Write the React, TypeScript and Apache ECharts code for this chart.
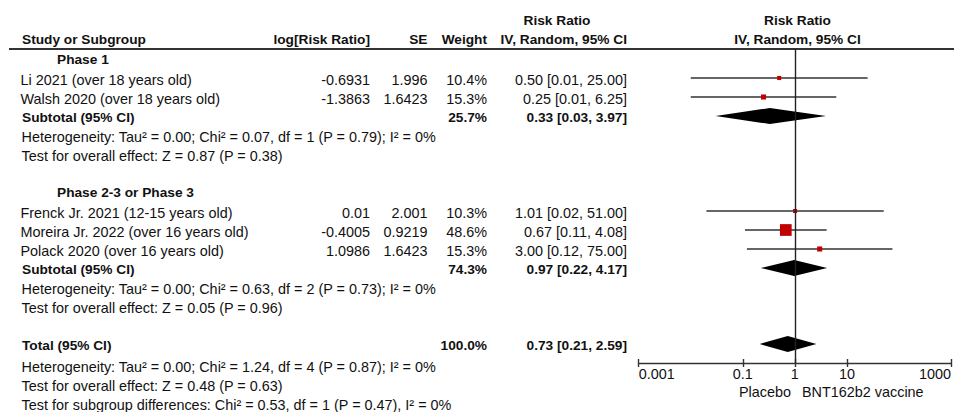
import React, { useEffect, useRef } from "react";
import * as echarts from "echarts";

// ---------- data ----------
const groupLabels = ["Phase 1", "Phase 2-3 or Phase 3"];
const groupRows = [0, 7];

const studyNames = [
  "Li 2021 (over 18 years old)",
  "Walsh 2020 (over 18 years old)",
  "Frenck Jr. 2021 (12-15 years old)",
  "Moreira Jr. 2022 (over 16 years old)",
  "Polack 2020 (over 16 years old)",
];
const studyLogRR = ["-0.6931", "-1.3863", "0.01", "-0.4005", "1.0986"];
const studySE = ["1.996", "1.6423", "2.001", "0.9219", "1.6423"];
const studyWeight = [10.4, 15.3, 10.3, 48.6, 15.3];
const studyRR = [0.5, 0.25, 1.01, 0.67, 3.0];
const studyLow = [0.01, 0.01, 0.02, 0.11, 0.12];
const studyHigh = [25.0, 6.25, 51.0, 4.08, 75.0];
const studyRows = [1, 2, 8, 9, 10];

const pooledLabels = ["Subtotal (95% CI)", "Subtotal (95% CI)", "Total (95% CI)"];
const pooledWeight = [25.7, 74.3, 100.0];
const pooledRR = [0.33, 0.97, 0.73];
const pooledLow = [0.03, 0.22, 0.21];
const pooledHigh = [3.97, 4.17, 2.59];
const pooledRows = [3, 11, 15];

const noteTexts = [
  "Heterogeneity: Tau\u00b2 = 0.00; Chi\u00b2 = 0.07, df = 1 (P = 0.79); I\u00b2 = 0%",
  "Test for overall effect: Z = 0.87 (P = 0.38)",
  "Heterogeneity: Tau\u00b2 = 0.00; Chi\u00b2 = 0.63, df = 2 (P = 0.73); I\u00b2 = 0%",
  "Test for overall effect: Z = 0.05 (P = 0.96)",
  "Heterogeneity: Tau\u00b2 = 0.00; Chi\u00b2 = 1.24, df = 4 (P = 0.87); I\u00b2 = 0%",
  "Test for overall effect: Z = 0.48 (P = 0.63)",
  "Test for subgroup differences: Chi\u00b2 = 0.53, df = 1 (P = 0.47), I\u00b2 = 0%",
];
const noteRows = [4, 5, 12, 13, 16, 17, 18];

const xTickValues = [0.001, 0.1, 1, 10, 1000];
const favoursLeft = "Placebo";
const favoursRight = "BNT162b2 vaccine";

// ---------- layout ----------
const W = 954;
const H = 412;
const FONT = '"Liberation Sans", Arial, sans-serif';
const FS_BOLD = 13.7;
const FS = 14.4;
const ROW0 = 59;
const ROWH = 19;
const rowY = (r: number) => ROW0 + ROWH * r;
const GRID_TOP = 49;
const AXIS_Y = 363;
const PLOT_LEFT = 638.7;
const PLOT_RIGHT = 956.7;

const COL = {
  name: 20.5,
  group: 57,
  bold: 22,
  logrr: 370,
  se: 427.5,
  weight: 487,
  ci: 627,
};

function txt(text: string, x: number, y: number, align: string, bold = false) {
  return {
    type: "text",
    x,
    y,
    silent: true,
    style: {
      text,
      fill: "#111",
      font: `${bold ? "bold " : ""}${bold ? FS_BOLD : FS}px ${FONT}`,
      align,
      verticalAlign: "middle",
      textAlign: align,
      textVerticalAlign: "middle",
    },
  };
}

const fmtCI = (m: number, l: number, h: number) =>
  `${m.toFixed(2)} [${l.toFixed(2)}, ${h.toFixed(2)}]`;

export default function App() {
  const ref = useRef<HTMLDivElement>(null);

  useEffect(() => {
    if (!ref.current) return;
    const chart = echarts.init(ref.current, undefined, { renderer: "svg" });

    const graphics: any[] = [];
    // headers
    graphics.push(txt("Risk Ratio", 557, 20, "center", true));
    graphics.push(txt("Risk Ratio", 797.5, 20, "center", true));
    graphics.push(txt("Study or Subgroup", COL.bold, 39.5, "left", true));
    graphics.push(txt("log[Risk Ratio]", COL.logrr, 39.5, "right", true));
    graphics.push(txt("SE", COL.se, 39.5, "right", true));
    graphics.push(txt("Weight", COL.weight, 39.5, "right", true));
    graphics.push(txt("IV, Random, 95% CI", COL.ci, 39.5, "right", true));
    graphics.push(txt("IV, Random, 95% CI", 797.5, 39.5, "center", true));
    graphics.push({
      type: "line",
      silent: true,
      shape: { x1: 9, y1: GRID_TOP, x2: W, y2: GRID_TOP },
      style: { stroke: "#333", lineWidth: 2 },
    });

    groupLabels.forEach((g, i) => {
      graphics.push(txt(g, COL.group, rowY(groupRows[i]) + 0.5, "left", true));
    });
    studyNames.forEach((n, i) => {
      const y = rowY(studyRows[i]) + 1.5;
      graphics.push(txt(n, COL.name, y, "left"));
      graphics.push(txt(studyLogRR[i], COL.logrr, y, "right"));
      graphics.push(txt(studySE[i], COL.se, y, "right"));
      graphics.push(txt(studyWeight[i].toFixed(1) + "%", COL.weight, y, "right"));
      graphics.push(txt(fmtCI(studyRR[i], studyLow[i], studyHigh[i]), COL.ci, y, "right"));
    });
    pooledLabels.forEach((n, i) => {
      const y = rowY(pooledRows[i]) + 1.5;
      graphics.push(txt(n, COL.bold, y, "left", true));
      graphics.push(txt(pooledWeight[i].toFixed(1) + "%", COL.weight, y, "right", true));
      graphics.push(txt(fmtCI(pooledRR[i], pooledLow[i], pooledHigh[i]), COL.ci, y, "right", true));
    });
    noteTexts.forEach((t, i) => {
      const y = rowY(noteRows[i]) + (noteRows[i] >= 16 ? 3.5 : 2);
      graphics.push(txt(t, COL.bold - 0.5, y, "left"));
    });
    graphics.push(txt(favoursLeft, 791, 391.5, "right"));
    graphics.push(txt(favoursRight, 802, 391.5, "left"));

    const yMin = (GRID_TOP - ROW0) / ROWH;
    const yMax = (AXIS_Y - ROW0) / ROWH;

    const axisBase = {
      type: "log",
      logBase: 10,
      min: 0.001,
      max: 1000,
      position: "bottom",
      splitLine: { show: false },
      minorTick: { show: false },
    };

    chart.setOption({
      animation: false,
      grid: {
        left: PLOT_LEFT,
        right: W - PLOT_RIGHT,
        top: GRID_TOP,
        bottom: H - AXIS_Y,
        containLabel: false,
      },
      xAxis: [
        {
          ...axisBase,
          axisLine: { show: true, onZero: false, lineStyle: { color: "#333", width: 1.4 } },
          axisTick: {
            show: true,
            length: 4,
            customValues: xTickValues,
            lineStyle: { color: "#333", width: 1.4 },
          },
          axisLabel: {
            show: true,
            customValues: xTickValues,
            formatter: (v: number) => String(v),
            margin: 4,
            fontSize: FS,
            fontFamily: FONT,
            color: "#111",
            alignMinLabel: "left",
            alignMaxLabel: "right",
          },
        },
        {
          ...axisBase,
          axisLine: { show: false, onZero: false },
          axisTick: {
            show: true,
            inside: true,
            length: 4,
            customValues: xTickValues,
            lineStyle: { color: "#333", width: 1.4 },
          },
          axisLabel: { show: false },
        },
      ],
      yAxis: {
        type: "value",
        inverse: true,
        min: yMin,
        max: yMax,
        show: false,
      },
      graphic: { elements: graphics },
      series: [
        {
          type: "custom",
          name: "studies",
          clip: false,
          xAxisIndex: 0,
          data: studyRR.map((m, i) => [m, studyLow[i], studyHigh[i], studyRows[i], studyWeight[i]]),
          encode: { x: [0, 1, 2], y: 3 },
          renderItem: (params: any, api: any) => {
            const y = api.value(3);
            const pLo = api.coord([api.value(1), y]);
            const pHi = api.coord([api.value(2), y]);
            const pM = api.coord([api.value(0), y]);
            const s = 2 + 0.2 * api.value(4);
            return {
              type: "group",
              children: [
                {
                  type: "line",
                  shape: { x1: pLo[0], y1: pLo[1], x2: pHi[0], y2: pHi[1] },
                  style: { stroke: "#333", lineWidth: 1.3 },
                },
                {
                  type: "rect",
                  shape: { x: pM[0] - s / 2, y: pM[1] - s / 2, width: s, height: s },
                  style: { fill: "#C00000" },
                },
              ],
            };
          },
          markLine: {
            silent: true,
            symbol: "none",
            label: { show: false },
            lineStyle: { color: "#222", width: 1.4, type: "solid" },
            data: [{ xAxis: 1 }],
          },
        },
        {
          type: "custom",
          name: "pooled",
          clip: false,
          xAxisIndex: 0,
          data: pooledRR.map((m, i) => [m, pooledLow[i], pooledHigh[i], pooledRows[i]]),
          encode: { x: [0, 1, 2], y: 3 },
          renderItem: (params: any, api: any) => {
            const y = api.value(3);
            const pLo = api.coord([api.value(1), y]);
            const pHi = api.coord([api.value(2), y]);
            const pM = api.coord([api.value(0), y]);
            const h = 8;
            return {
              type: "polygon",
              shape: {
                points: [
                  [pLo[0], pLo[1]],
                  [pM[0], pM[1] - h],
                  [pHi[0], pHi[1]],
                  [pM[0], pM[1] + h],
                ],
              },
              style: { fill: "#000" },
            };
          },
        },
      ],
    });

    return () => chart.dispose();
  }, []);

  return (
    <div
      ref={ref}
      style={{ position: "absolute", left: 0, top: 0, width: W, height: H, background: "#fff" }}
    />
  );
}
